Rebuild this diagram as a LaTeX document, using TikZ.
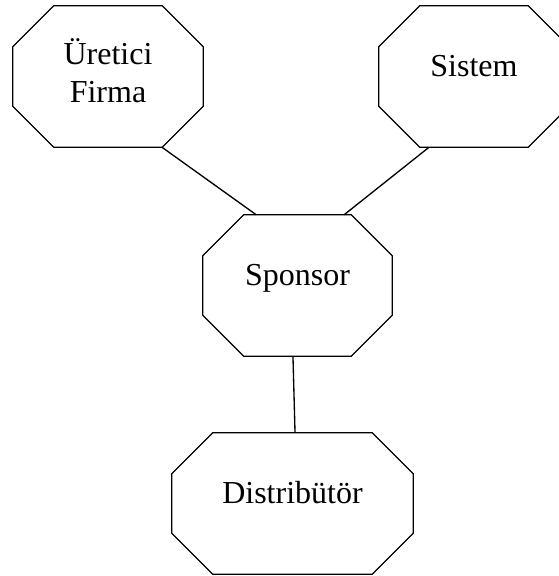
\documentclass[tikz,border=0pt]{standalone}
\usepackage{fontspec}
\setmainfont{Liberation Serif}

\newcommand{\cut}{30.75pt}
\tikzset{
  octline/.style={line width=1pt, line join=miter},
  octa/.style={rectangle, minimum width=142.5pt, minimum height=105.75pt,
    inner sep=0pt, font=\fontsize{24}{28.5}\selectfont,
    append after command={\pgfextra{
      \draw[octline] ([xshift=\cut]\tikzlastnode.north west)
        -- ([xshift=-\cut]\tikzlastnode.north east)
        -- ([yshift=-\cut]\tikzlastnode.north east)
        -- ([yshift=\cut]\tikzlastnode.south east)
        -- ([xshift=-\cut]\tikzlastnode.south east)
        -- ([xshift=\cut]\tikzlastnode.south west)
        -- ([yshift=\cut]\tikzlastnode.south west)
        -- ([yshift=-\cut]\tikzlastnode.north west) -- cycle;}}},
  oneline/.style={text height=0.7em, text depth=0.7em},
  link/.style={line width=1pt}
}

\begin{document}
\begin{tikzpicture}[x=0.75pt, y=-0.75pt]
  \useasboundingbox (0,0) rectangle (559,576);
  % the four parties
  \node[octa, align=center] (ure) at (108,76.5) {Üretici\\Firma\rule[-9pt]{0pt}{0pt}};
  \node[octa, oneline] (sis) at (474,76.5) {Sistem};
  \node[octa, oneline, minimum width=141.75pt] (spo) at (297.5,285.5) {Sponsor};
  \node[octa, oneline, minimum width=180.75pt] (dis) at (292.5,503.5) {Distribütör};
  % links
  \draw[link] ([xshift=40.5pt]ure.south) -- ([xshift=-31pt]spo.north);
  \draw[link] ([xshift=-33.75pt]sis.south) -- ([xshift=35pt]spo.north);
  \draw[link] ([xshift=-3.4pt]spo.south) -- ([xshift=1.9pt]dis.north);
\end{tikzpicture}
\end{document}
